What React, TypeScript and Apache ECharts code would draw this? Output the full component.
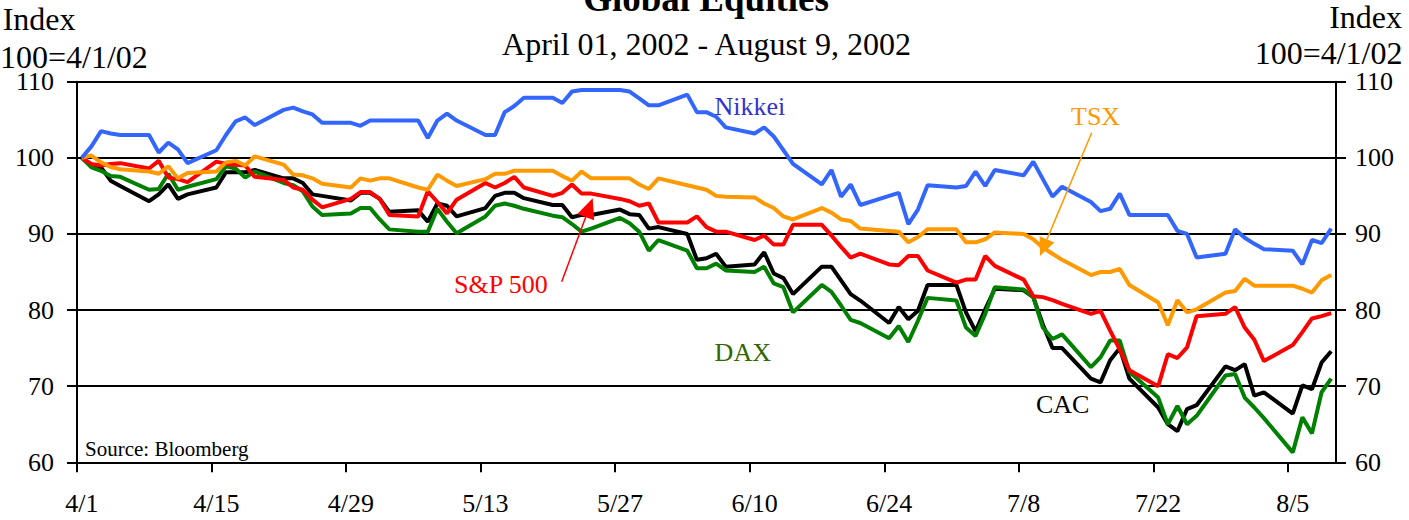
import React, { useEffect, useRef } from 'react';
import * as echarts from 'echarts';

const FONT = "'Liberation Serif', 'Times New Roman', serif";

// Trading days, 4/1/2002 - 8/9/2002
const tradingDays = [
  '4/1', '4/2', '4/3', '4/4', '4/5', '4/8', '4/9', '4/10', '4/11', '4/12',
  '4/15', '4/16', '4/17', '4/18', '4/19', '4/22', '4/23', '4/24', '4/25', '4/26',
  '4/29', '4/30', '5/1', '5/2', '5/3', '5/6', '5/7', '5/8', '5/9', '5/10',
  '5/13', '5/14', '5/15', '5/16', '5/17', '5/20', '5/21', '5/22', '5/23', '5/24',
  '5/27', '5/28', '5/29', '5/30', '5/31', '6/3', '6/4', '6/5', '6/6', '6/7',
  '6/10', '6/11', '6/12', '6/13', '6/14', '6/17', '6/18', '6/19', '6/20', '6/21',
  '6/24', '6/25', '6/26', '6/27', '6/28', '7/1', '7/2', '7/3', '7/4', '7/5',
  '7/8', '7/9', '7/10', '7/11', '7/12', '7/15', '7/16', '7/17', '7/18', '7/19',
  '7/22', '7/23', '7/24', '7/25', '7/26', '7/29', '7/30', '7/31', '8/1', '8/2',
  '8/5', '8/6', '8/7', '8/8', '8/9',
];

const nikkei = [
  100, 101.5, 103.5, 103.2, 103.0, 103.0, 100.7, 102.0, 101.1, 99.3,
  101.0, 103.0, 104.8, 105.3, 104.3, 106.3, 106.6, 106.1, 105.7, 104.6,
  104.6, 104.2, 104.9, 104.9, 104.9, 104.9, 102.6, 104.9, 105.8, 104.9,
  103.0, 103.0, 106.0, 106.8, 107.9, 107.9, 107.2, 108.7, 108.9, 108.9,
  108.9, 108.7, 107.8, 106.9, 106.9, 108.3, 106.0, 106.0, 105.4, 104.0,
  103.2, 104.0, 102.8, 101.0, 99.2, 96.5, 98.4, 94.9, 96.5, 93.8,
  95.0, 95.4, 91.3, 93.2, 96.4, 96.1, 96.3, 98.2, 96.3, 98.4,
  97.7, 99.5, 97.2, 94.9, 96.2, 94.2, 93.0, 93.3, 95.3, 92.5,
  92.5, 92.5, 90.4, 90.0, 86.9, 87.4, 90.6, 89.5, 88.7, 88.0,
  87.8, 86.0, 89.2, 88.8, 90.7,
];

const tsx = [
  100, 100.3, 99.4, 98.8, 98.5, 98.2, 97.9, 98.9, 97.3, 98.0,
  98.2, 99.4, 99.6, 99.0, 100.2, 99.1, 97.8, 97.7, 97.3, 96.6,
  96.1, 97.3, 97.0, 97.3, 97.3, 96.1, 95.8, 97.8, 97.0, 96.3,
  97.2, 97.9, 97.9, 98.3, 98.3, 98.3, 97.6, 97.0, 98.2, 97.3,
  97.3, 97.3, 96.5, 95.9, 97.3, 96.4, 96.1, 95.8, 95.0, 94.9,
  94.8, 94.0, 93.4, 92.3, 91.9, 93.4, 92.8, 91.9, 91.7, 90.7,
  90.4, 90.3, 88.9, 89.6, 90.6, 90.6, 88.9, 88.9, 89.3, 90.2,
  90.0, 89.3, 88.2, 87.4, 86.6, 84.6, 85.0, 85.0, 85.4, 83.3,
  81.0, 78.0, 81.3, 79.7, 80.1, 82.3, 82.5, 84.1, 83.2, 83.2,
  83.2, 82.8, 82.3, 83.9, 84.6,
];

const sp500 = [
  100, 99.2, 99.0, 99.2, 99.3, 98.6, 99.6, 97.4, 97.2, 96.8,
  99.5, 99.2, 99.1, 99.0, 97.5, 97.1, 96.1, 95.8, 94.5, 93.5,
  94.6, 95.5, 95.5, 94.6, 92.5, 92.3, 95.6, 94.2, 92.7, 94.5,
  96.7, 96.1, 96.7, 97.5, 96.1, 95.0, 95.4, 96.5, 95.3, 95.3,
  94.6, 94.3, 93.7, 94.0, 91.5, 91.5, 92.3, 90.9, 90.3, 90.3,
  89.2, 89.8, 88.6, 88.6, 91.2, 91.2, 89.8, 88.3, 86.9, 87.4,
  86.0, 85.9, 87.1, 87.1, 85.2, 83.6, 84.0, 84.0, 87.1, 85.8,
  84.0, 81.8, 81.7, 81.3, 80.8, 79.5, 79.9, 77.3, 74.8, 72.1,
  70.0, 74.2, 73.7, 75.1, 79.2, 79.5, 80.4, 77.7, 76.1, 73.3,
  75.4, 77.1, 78.9, 79.2, 79.6,
];

const dax = [
  100, 98.75, 98.3, 97.6, 97.5, 95.8, 95.9, 97.9, 95.8, 96.2,
  97.2, 98.9, 98.6, 97.4, 98.2, 96.7, 96.4, 95.6, 93.6, 92.5,
  92.7, 93.4, 93.4, 91.9, 90.6, 90.3, 90.3, 93.3, 91.6, 90.1,
  92.3, 93.7, 94.0, 93.7, 93.3, 92.4, 92.2, 91.3, 90.3, 90.7,
  92.1, 91.4, 90.3, 87.8, 89.2, 87.8, 85.5, 85.5, 86.1, 85.2,
  85.0, 85.7, 83.5, 83.0, 79.7, 83.3, 82.4, 80.6, 78.7, 78.3,
  76.3, 77.9, 75.8, 78.6, 81.6, 81.25, 77.7, 76.6, 79.5, 83.0,
  82.7, 81.7, 77.7, 76.2, 76.8, 72.5, 73.8, 76.0, 76.0, 71.9,
  68.5, 65.0, 67.4, 65.0, 66.1, 71.4, 71.6, 68.5, 67.2, 65.8,
  61.3, 65.9, 63.8, 69.2, 71.0,
];

const cac = [
  100, 98.9, 98.75, 97.0, 96.3, 94.3, 95.2, 96.5, 94.6, 95.2,
  96.1, 98.1, 98.1, 98.1, 98.4, 97.3, 97.3, 96.7, 95.2, 95.0,
  94.4, 95.4, 95.4, 94.6, 92.9, 93.1, 91.6, 94.0, 93.7, 92.3,
  93.4, 95.0, 95.4, 95.4, 94.7, 93.8, 93.8, 92.2, 92.5, 92.5,
  93.2, 92.6, 92.5, 90.7, 90.9, 90.0, 86.6, 86.8, 87.4, 85.7,
  86.0, 87.6, 84.8, 84.2, 82.1, 85.7, 85.7, 83.9, 82.1, 81.25,
  78.3, 80.4, 78.8, 79.9, 83.3, 83.3, 79.7, 77.2, 80.1, 82.8,
  82.6, 81.7, 78.1, 75.0, 75.0, 71.0, 70.5, 73.4, 75.0, 71.0,
  67.2, 65.0, 64.1, 67.0, 67.5, 72.6, 72.1, 72.9, 68.75, 69.2,
  66.4, 70.1, 69.6, 73.1, 74.6,
];

const tickDates = ['4/1', '4/15', '4/29', '5/13', '5/27', '6/10', '6/24', '7/8', '7/22', '8/5'];
const yTicks = [60, 70, 80, 90, 100, 110];

const BASE = Date.UTC(2002, 3, 1);
const DAY = 86400000;
function dayIndex(md: string): number {
  const [m, d] = md.split('/').map(Number);
  return (Date.UTC(2002, m - 1, d) - BASE) / DAY;
}
function dayLabel(v: number): string {
  const dt = new Date(BASE + Math.floor(v + 1e-6) * DAY);
  return `${dt.getUTCMonth() + 1}/${dt.getUTCDate()}`;
}
// last slot: day after the last trading day
const axisDays = dayIndex('8/10');

function arrow(x1: number, y1: number, x2: number, y2: number, color: string, len: number, half: number) {
  const dx = x2 - x1, dy = y2 - y1;
  const L = Math.sqrt(dx * dx + dy * dy);
  const ux = dx / L, uy = dy / L;
  const bx = x2 - ux * len, by = y2 - uy * len;
  const px = -uy, py = ux;
  return [
    { type: 'line', shape: { x1, y1, x2: bx, y2: by }, style: { stroke: color, lineWidth: 1.5 }, z: 10 },
    {
      type: 'polygon',
      shape: { points: [[x2, y2], [bx + px * half, by + py * half], [bx - px * half, by - py * half]] },
      style: { fill: color },
      z: 10,
    },
  ];
}

function text(x: number, y: number, t: string, size: number, color: string, align: string, bold = false) {
  return {
    type: 'text',
    x,
    y,
    z: 10,
    style: {
      text: t,
      font: `${bold ? 'bold ' : ''}${size}px ${FONT}`,
      fill: color,
      align,
      textAlign: align,
      verticalAlign: 'middle',
      textVerticalAlign: 'middle',
    },
  };
}

function seriesOf(name: string, values: number[], color: string, z: number) {
  return {
    name,
    type: 'line',
    data: tradingDays.map((d, i) => [dayIndex(d) + 0.5, values[i]]),
    symbol: 'none',
    showSymbol: false,
    lineStyle: { color, width: 4 },
    itemStyle: { color },
    z,
    silent: true,
  };
}

export default function App() {
  const ref = useRef<HTMLDivElement>(null);
  useEffect(() => {
    if (!ref.current) return;
    const chart = echarts.init(ref.current, null, { renderer: 'svg' });
    const axisLabelStyle = { color: '#000', fontSize: 26, fontFamily: FONT };
    const option: any = {
      animation: false,
      backgroundColor: '#fff',
      grid: { left: 77, right: 73, top: 81.7, bottom: 57.7, containLabel: false },
      xAxis: {
        type: 'value',
        min: 0,
        max: axisDays,
        interval: 14,
        axisLine: { show: true, lineStyle: { color: '#000', width: 2 } },
        axisTick: {
          show: true,
          inside: false,
          length: 10,
          lineStyle: { color: '#000', width: 2 },
          customValues: tickDates.map(dayIndex),
        },
        axisLabel: {
          ...axisLabelStyle,
          margin: 28,
          customValues: tickDates.map((d) => dayIndex(d) + 0.5),
          formatter: (v: number) => dayLabel(v),
        },
        splitLine: { show: false },
      },
      yAxis: [
        {
          type: 'value',
          position: 'left',
          min: yTicks[0],
          max: yTicks[yTicks.length - 1],
          interval: 10,
          axisLine: { show: true, lineStyle: { color: '#000', width: 2 } },
          axisTick: { show: true, length: 10, lineStyle: { color: '#000', width: 2 } },
          axisLabel: { ...axisLabelStyle, margin: 23 },
          splitLine: { show: true, lineStyle: { color: '#000', width: 2 } },
        },
        {
          type: 'value',
          position: 'right',
          min: yTicks[0],
          max: yTicks[yTicks.length - 1],
          interval: 10,
          axisLine: { show: true, lineStyle: { color: '#000', width: 2 } },
          axisTick: { show: true, length: 10, lineStyle: { color: '#000', width: 2 } },
          axisLabel: { ...axisLabelStyle, margin: 19 },
          splitLine: { show: false },
        },
      ],
      series: [
        seriesOf('CAC', cac, '#000000', 2),
        seriesOf('DAX', dax, '#008000', 3),
        seriesOf('S&P 500', sp500, '#FF0000', 4),
        seriesOf('TSX', tsx, '#FF9900', 5),
        seriesOf('Nikkei', nikkei, '#3366FF', 6),
      ],
      graphic: [
        text(706, -2, 'Global Equities', 37, '#000', 'center', true),
        text(706.5, 44.2, 'April 01, 2002 - August 9, 2002', 32, '#000', 'center'),
        text(2.7, 18.5, 'Index', 32, '#000', 'left'),
        text(0, 57, '100=4/1/02', 32, '#000', 'left'),
        text(1402, 16.5, 'Index', 32, '#000', 'right'),
        text(1402.5, 53, '100=4/1/02', 32, '#000', 'right'),
        text(85, 449, 'Source: Bloomberg', 21, '#000', 'left'),
        text(714.5, 106.5, 'Nikkei', 26, '#3333CC', 'left'),
        text(1071, 116.5, 'TSX', 26, '#FF9900', 'left'),
        text(454, 284.5, 'S&P 500', 26, '#FF0000', 'left'),
        text(714.6, 352.8, 'DAX', 26, '#336600', 'left'),
        text(1036, 404.5, 'CAC', 26, '#000', 'left'),
        ...arrow(1091.7, 132.7, 1040, 256, '#FF9900', 18, 8),
        ...arrow(561.7, 281.7, 592.7, 198.3, '#FF0000', 20, 9),
      ],
    };
    chart.setOption(option);
    return () => chart.dispose();
  }, []);
  return (
    <div
      ref={ref}
      style={{ position: 'fixed', left: 0, top: 0, width: 1409, height: 520, background: '#fff' }}
    />
  );
}
